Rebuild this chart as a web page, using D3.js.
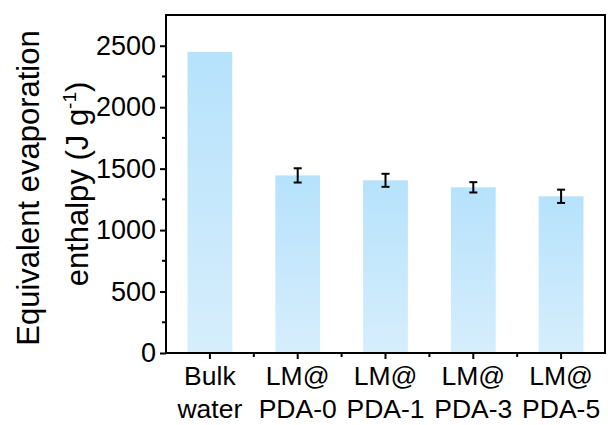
<!DOCTYPE html>
<html>
<head>
<meta charset="utf-8">
<script src="https://cdn.jsdelivr.net/npm/d3@7"></script>
<style>
  body { margin: 0; background: #fff; }
  svg { display: block; font-family: "Liberation Sans", Arial, sans-serif; }
</style>
</head>
<body>
<svg id="chart" width="608" height="425"></svg>
<script>
// categories (two-line labels)
const categories = ["Bulk|water", "LM@|PDA-0", "LM@|PDA-1", "LM@|PDA-3", "LM@|PDA-5"];
const values = [2450, 1445, 1405, 1348, 1275];
const errors = [null, 58, 53, 42, 54];
const yTicks = [0, 500, 1000, 1500, 2000, 2500];
const yMinorTicks = [250, 750, 1250, 1750, 2250];

const svg = d3.select("#chart");
const margin = { top: 15, right: 3, bottom: 72, left: 166 };
const W = 608, H = 425;

const x = d3.scaleBand().domain(categories).range([margin.left, W - margin.right]).paddingInner(0.49).paddingOuter(0.245);
const y = d3.scaleLinear().domain([0, 2750]).range([H - margin.bottom, margin.top]);

// gradient for bars
const defs = svg.append("defs");
const grad = defs.append("linearGradient").attr("id", "barGrad").attr("x1", 0).attr("y1", 0).attr("x2", 0).attr("y2", 1);
grad.append("stop").attr("offset", "0%").attr("stop-color", "#b6e2fc");
grad.append("stop").attr("offset", "100%").attr("stop-color", "#d6eefc");

// bars
svg.selectAll("rect.bar").data(categories).join("rect")
  .attr("class", "bar")
  .attr("x", d => x(d))
  .attr("width", x.bandwidth())
  .attr("y", (d, i) => y(values[i]))
  .attr("height", (d, i) => y(0) - y(values[i]))
  .attr("fill", "url(#barGrad)");

// error bars
const eb = svg.append("g").attr("stroke", "#000").attr("stroke-width", 2);
categories.forEach((c, i) => {
  if (errors[i] == null) return;
  const cx = x(c) + x.bandwidth() / 2;
  eb.append("line").attr("x1", cx).attr("x2", cx).attr("y1", y(values[i] - errors[i])).attr("y2", y(values[i] + errors[i]));
  eb.append("line").attr("x1", cx - 4).attr("x2", cx + 4).attr("y1", y(values[i] - errors[i])).attr("y2", y(values[i] - errors[i]));
  eb.append("line").attr("x1", cx - 4).attr("x2", cx + 4).attr("y1", y(values[i] + errors[i])).attr("y2", y(values[i] + errors[i]));
});

// frame
svg.append("rect")
  .attr("x", margin.left).attr("y", margin.top)
  .attr("width", W - margin.right - margin.left).attr("height", y(0) - margin.top)
  .attr("fill", "none").attr("stroke", "#000").attr("stroke-width", 2);

// y axis
const yAxis = svg.append("g").attr("transform", `translate(${margin.left},0)`)
  .call(d3.axisLeft(y).tickValues(yTicks).tickSize(6).tickPadding(4).tickFormat(d3.format("d")));
yAxis.select(".domain").remove();
yAxis.selectAll("line").attr("stroke-width", 2);
yAxis.attr("font-size", null).attr("font-family", null);
yAxis.selectAll("text").style("font-size", "27px").attr("fill", "#000");
svg.append("g").attr("transform", `translate(${margin.left},0)`)
  .selectAll("line").data(yMinorTicks).join("line")
  .attr("x1", -4).attr("x2", 0).attr("y1", d => y(d)).attr("y2", d => y(d))
  .attr("stroke", "#000").attr("stroke-width", 2);

// x axis
const xAxis = svg.append("g").attr("transform", `translate(0,${y(0)})`)
  .call(d3.axisBottom(x).tickSize(6).tickFormat(""));
xAxis.select(".domain").remove();
xAxis.selectAll("line").attr("stroke-width", 2);
const step = x.step();
svg.append("g").attr("transform", `translate(0,${y(0)})`)
  .selectAll("line").data(categories.slice(1)).join("line")
  .attr("x1", d => x(d) + x.bandwidth() / 2 - step / 2).attr("x2", d => x(d) + x.bandwidth() / 2 - step / 2)
  .attr("y1", 0).attr("y2", 4).attr("stroke", "#000").attr("stroke-width", 2);

const xl = svg.append("g").style("font-size", "26.5px").attr("text-anchor", "middle").attr("fill", "#000");
categories.forEach(c => {
  const cx = x(c) + x.bandwidth() / 2;
  const parts = c.split("|");
  xl.append("text").attr("x", cx).attr("y", 385).text(parts[0]);
  xl.append("text").attr("x", cx).attr("y", 418).text(parts[1]);
});

// y title
const cy = (margin.top + y(0)) / 2;
svg.append("text").attr("transform", `translate(39,${cy + 4}) rotate(-90)`)
  .attr("text-anchor", "middle").style("font-size", "31px").text("Equivalent evaporation");
const t2 = svg.append("text").attr("transform", `translate(88,${cy}) rotate(-90)`)
  .attr("text-anchor", "middle").style("font-size", "31px");
t2.append("tspan").text("enthalpy (J g");
t2.append("tspan").attr("dy", -12).style("font-size", "19px").text("-1");
t2.append("tspan").attr("dy", 12).text(")");
</script>
</body>
</html>
